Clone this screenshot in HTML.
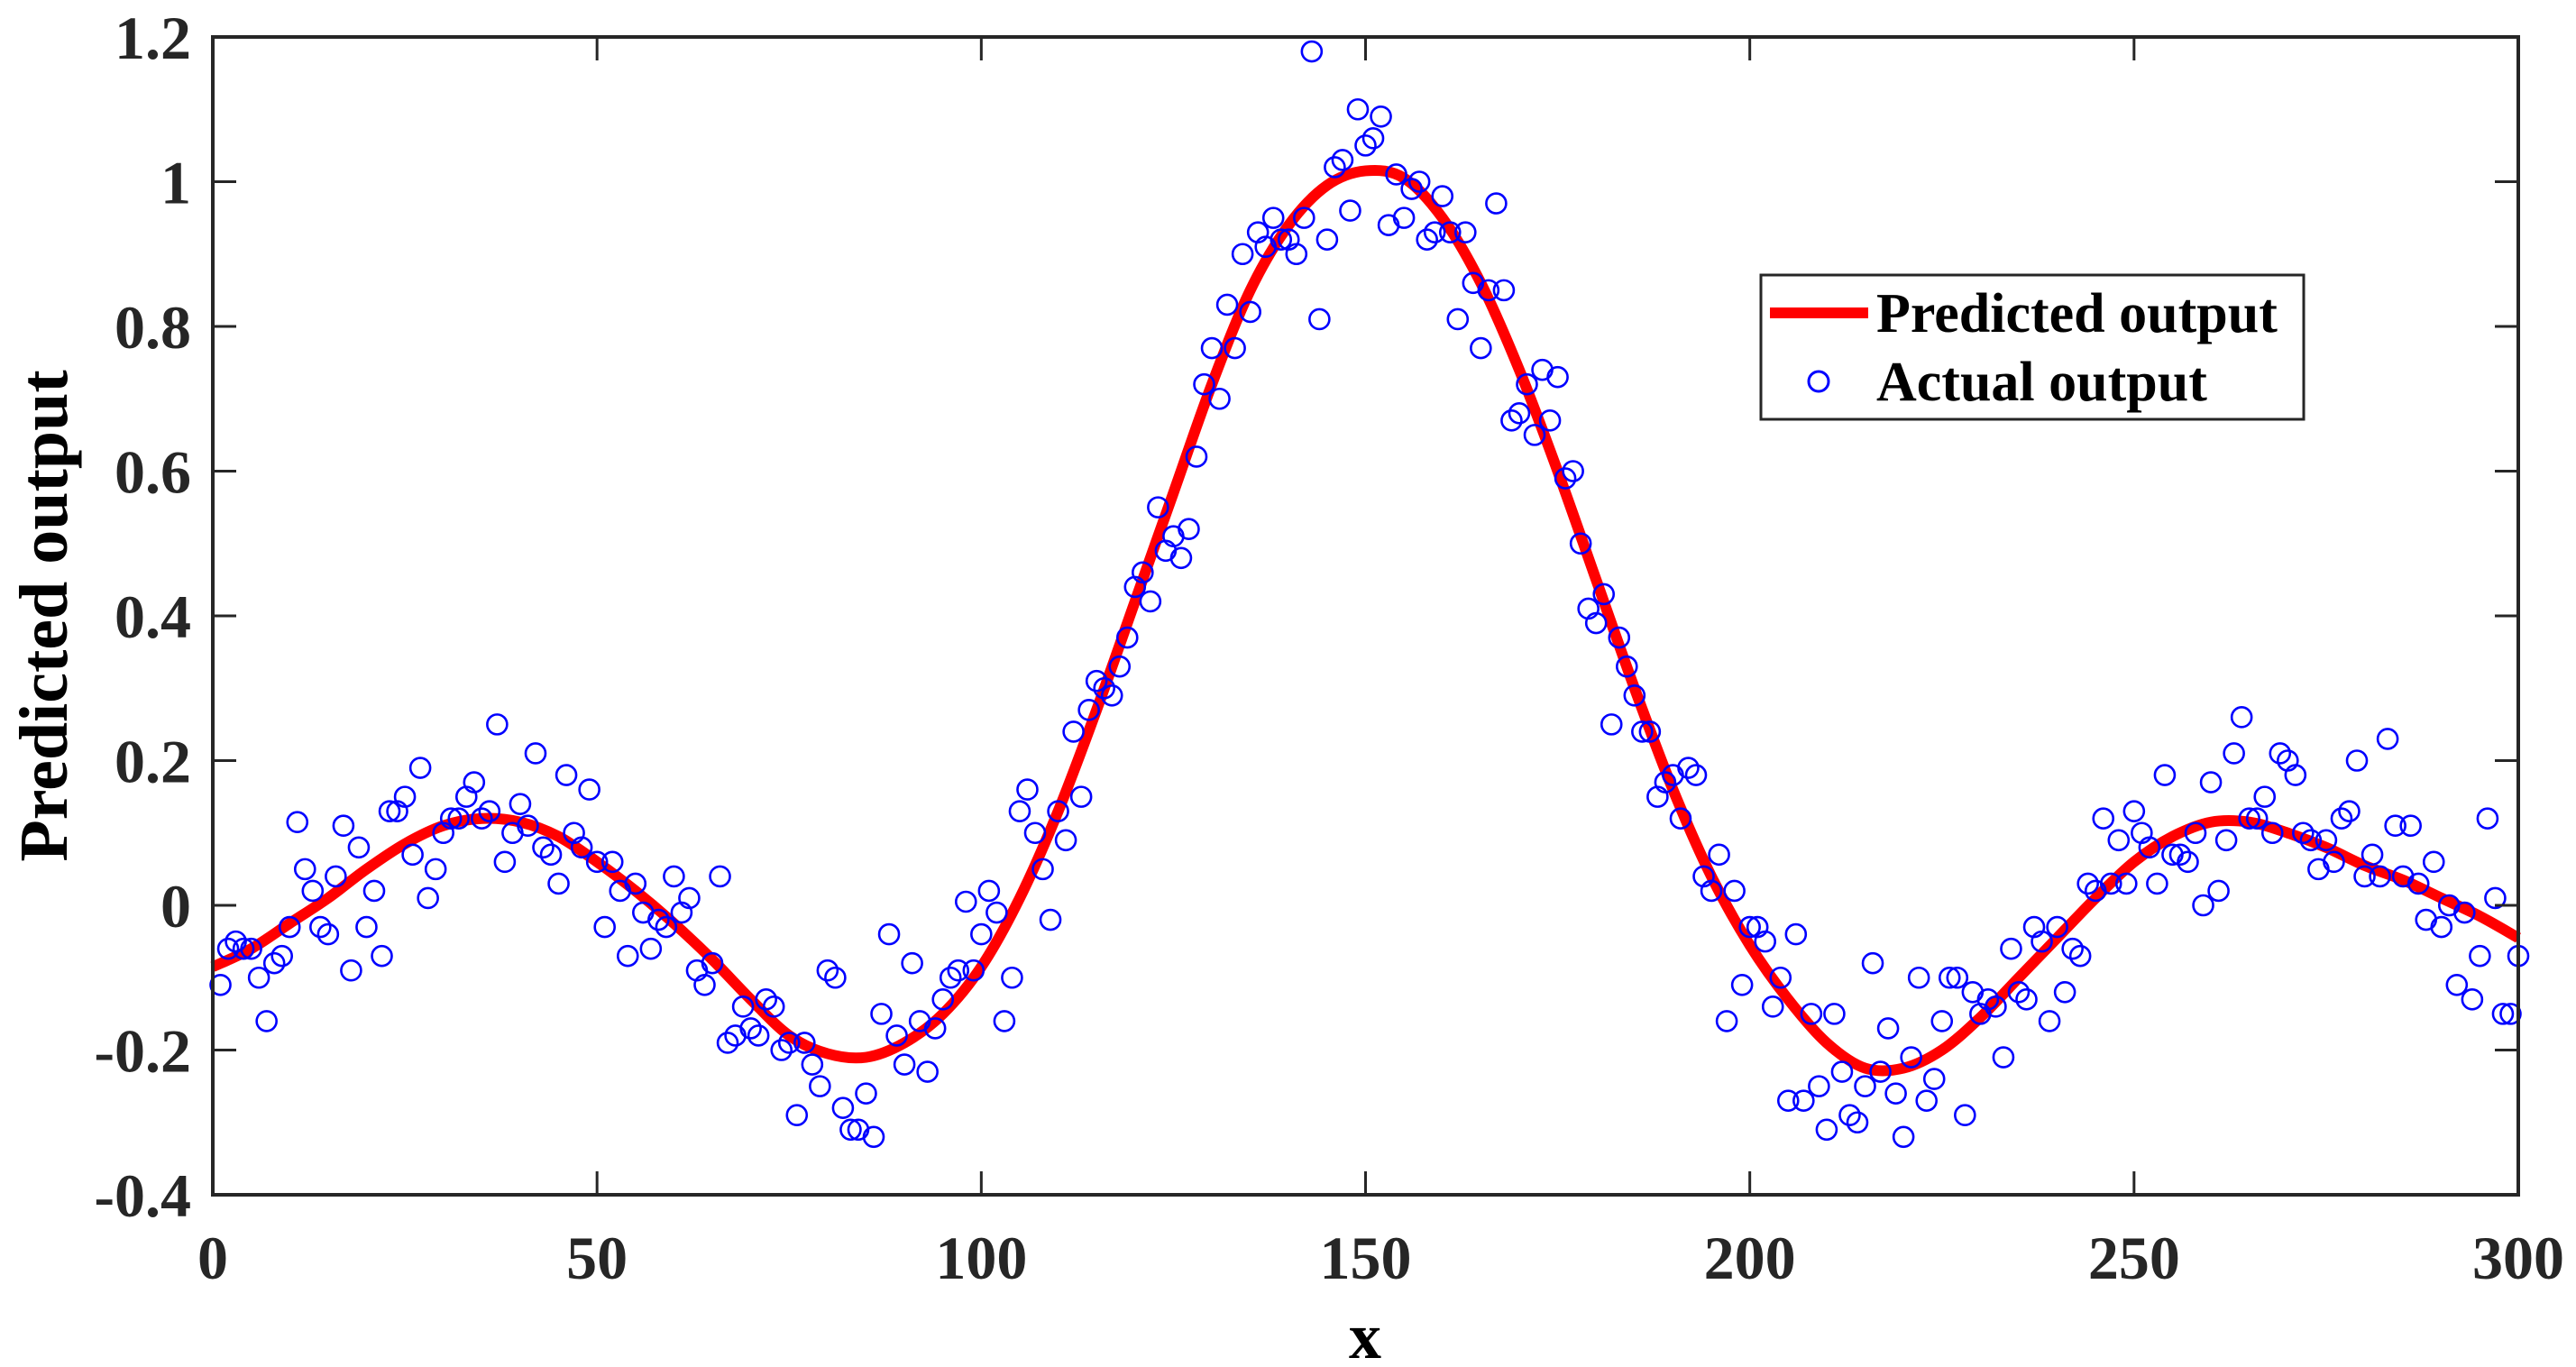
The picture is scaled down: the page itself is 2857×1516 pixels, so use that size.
<!DOCTYPE html>
<html><head><meta charset="utf-8"><style>
html,body{margin:0;padding:0;background:#fff;}
svg{display:block;}
text{font-family:"Liberation Serif","Times New Roman",serif;font-weight:bold;}
</style></head><body>
<svg id="chart" width="2857" height="1516" viewBox="0 0 2857 1516" xmlns="http://www.w3.org/2000/svg">
<rect x="0" y="0" width="2857" height="1516" fill="#fff"/>
<g id="marks"></g>
<g id="axes"></g>
<text x="1514" y="1506" font-family="Liberation Serif, serif" font-weight="bold" font-size="72" text-anchor="middle" fill="#000">x</text>
<text transform="translate(74,683) rotate(-90)" font-family="Liberation Serif, serif" font-weight="bold" font-size="76" text-anchor="middle" fill="#000">Predicted output</text>
<g>
<rect x="1953" y="305" width="602" height="160" fill="#fff" stroke="#262626" stroke-width="3"/>
<line x1="1963" y1="347" x2="2072" y2="347" stroke="#ff0000" stroke-width="12"/>
<text x="2081" y="368" font-family="Liberation Serif, serif" font-weight="bold" font-size="62" fill="#000">Predicted output</text>
<circle cx="2017" cy="423" r="11" fill="none" stroke="#0000ff" stroke-width="3"/>
<text x="2081" y="444" font-family="Liberation Serif, serif" font-weight="bold" font-size="62" fill="#000">Actual output</text>
</g>
</svg>
<script>
const xTicks=[0,50,100,150,200,250,300];
const yTicks=[-0.4,-0.2,0,0.2,0.4,0.6,0.8,1,1.2];
const yTickLabels=["-0.4","-0.2","0","0.2","0.4","0.6","0.8","1","1.2"];
const predX=[0,5,10,15,20,25,30,35,40,45,50,55,60,65,70,75,80,85,90,95,100,105,110,115,120,125,130,135,140,145,150,155,160,165,170,175,180,185,190,195,200,205,210,215,220,225,230,235,240,245,250,255,260,265,270,275,280,285,290,295,300];
const predY=[-0.085,-0.06,-0.025,0.01,0.05,0.085,0.11,0.12,0.115,0.095,0.06,0.02,-0.025,-0.075,-0.13,-0.18,-0.205,-0.21,-0.19,-0.15,-0.085,0.01,0.13,0.27,0.42,0.57,0.72,0.85,0.94,0.995,1.015,1.005,0.95,0.86,0.74,0.6,0.45,0.3,0.16,0.04,-0.055,-0.13,-0.19,-0.225,-0.225,-0.2,-0.155,-0.1,-0.045,0.01,0.06,0.095,0.115,0.115,0.1,0.08,0.055,0.035,0.01,-0.015,-0.045];
const actualY=[-0.11,-0.06,-0.05,-0.06,-0.06,-0.1,-0.16,-0.08,-0.07,-0.03,
0.115,0.05,0.02,-0.03,-0.04,0.04,0.11,-0.09,0.08,-0.03,
0.02,-0.07,0.13,0.13,0.15,0.07,0.19,0.01,0.05,0.1,
0.12,0.12,0.15,0.17,0.12,0.13,0.25,0.06,0.1,0.14,
0.11,0.21,0.08,0.07,0.03,0.18,0.1,0.08,0.16,0.06,
-0.03,0.06,0.02,-0.07,0.03,-0.01,-0.06,-0.02,-0.03,0.04,
-0.01,0.01,-0.09,-0.11,-0.08,0.04,-0.19,-0.18,-0.14,-0.17,
-0.18,-0.13,-0.14,-0.2,-0.19,-0.29,-0.19,-0.22,-0.25,-0.09,
-0.1,-0.28,-0.31,-0.31,-0.26,-0.32,-0.15,-0.04,-0.18,-0.22,
-0.08,-0.16,-0.23,-0.17,-0.13,-0.1,-0.09,0.005,-0.09,-0.04,
0.02,-0.01,-0.16,-0.1,0.13,0.16,0.1,0.05,-0.02,0.13,
0.09,0.24,0.15,0.27,0.31,0.3,0.29,0.33,0.37,0.44,
0.46,0.42,0.55,0.49,0.51,0.48,0.52,0.62,0.72,0.77,
0.7,0.83,0.77,0.9,0.82,0.93,0.91,0.95,0.92,0.92,
0.9,0.95,1.18,0.81,0.92,1.02,1.03,0.96,1.1,1.05,
1.06,1.09,0.94,1.01,0.95,0.99,1.0,0.92,0.93,0.98,
0.93,0.81,0.93,0.86,0.77,0.85,0.97,0.85,0.67,0.68,
0.72,0.65,0.74,0.67,0.73,0.59,0.6,0.5,0.41,0.39,
0.43,0.25,0.37,0.33,0.29,0.24,0.24,0.15,0.17,0.18,
0.12,0.19,0.18,0.04,0.02,0.07,-0.16,0.02,-0.11,-0.03,
-0.03,-0.05,-0.14,-0.1,-0.27,-0.04,-0.27,-0.15,-0.25,-0.31,
-0.15,-0.23,-0.29,-0.3,-0.25,-0.08,-0.23,-0.17,-0.26,-0.32,
-0.21,-0.1,-0.27,-0.24,-0.16,-0.1,-0.1,-0.29,-0.12,-0.15,
-0.13,-0.14,-0.21,-0.06,-0.12,-0.13,-0.03,-0.05,-0.16,-0.03,
-0.12,-0.06,-0.07,0.03,0.02,0.12,0.03,0.09,0.03,0.13,
0.1,0.08,0.03,0.18,0.07,0.07,0.06,0.1,0.0,0.17,
0.02,0.09,0.21,0.26,0.12,0.12,0.15,0.1,0.21,0.2,
0.18,0.1,0.09,0.05,0.09,0.06,0.12,0.13,0.2,0.04,
0.07,0.04,0.23,0.11,0.04,0.11,0.03,-0.02,0.06,-0.03,
0.0,-0.11,-0.01,-0.13,-0.07,0.12,0.01,-0.15,-0.15,-0.07];

const L=236,R=2793,T=41,B=1325;
const xMin=0,xMax=300,yMin=-0.4,yMax=1.2;
function sx(v){return L+(v-xMin)/(xMax-xMin)*(R-L);}
function sy(v){return B-(v-yMin)/(yMax-yMin)*(B-T);}
const NS="http://www.w3.org/2000/svg";
const marks=document.getElementById('marks');
const axes=document.getElementById('axes');
function mk(tag,attrs,parent){const e=document.createElementNS(NS,tag);for(const k in attrs)e.setAttribute(k,attrs[k]);parent.appendChild(e);return e;}

const pts=predX.map((x,i)=>[sx(x),sy(predY[i])]);
let d="M"+pts[0][0]+","+pts[0][1];
for(let i=0;i<pts.length-1;i++){
  const p0=pts[Math.max(0,i-1)],p1=pts[i],p2=pts[i+1],p3=pts[Math.min(pts.length-1,i+2)];
  const c1=[p1[0]+(p2[0]-p0[0])/6,p1[1]+(p2[1]-p0[1])/6];
  const c2=[p2[0]-(p3[0]-p1[0])/6,p2[1]-(p3[1]-p1[1])/6];
  d+=" C"+c1[0]+","+c1[1]+" "+c2[0]+","+c2[1]+" "+p2[0]+","+p2[1];
}
const line=mk('path',{d:d,fill:'none',stroke:'#ff0000','stroke-width':12,'stroke-linejoin':'round'},marks);



actualY.forEach((v,i)=>{
  const c=mk('circle',{cx:sx(i+1),cy:sy(v),r:11,fill:'none',stroke:'#0000ff','stroke-width':2.6},marks);
  
  
});

const box=mk('rect',{x:L,y:T,width:R-L,height:B-T,fill:'none',stroke:'#262626','stroke-width':4},axes);


const tl=26;
xTicks.forEach(v=>{
  const x=sx(v);
  mk('line',{x1:x,y1:B,x2:x,y2:B-tl,stroke:'#262626','stroke-width':3},axes);
  mk('line',{x1:x,y1:T,x2:x,y2:T+tl,stroke:'#262626','stroke-width':3},axes);
  const t=mk('text',{x:x,y:1418,'font-family':'Liberation Serif, serif','font-weight':'bold','font-size':68,'text-anchor':'middle',fill:'#262626'},axes);
  t.textContent=String(v);
  
  
});
yTicks.forEach((v,i)=>{
  const y=sy(v);
  mk('line',{x1:L,y1:y,x2:L+tl,y2:y,stroke:'#262626','stroke-width':3},axes);
  mk('line',{x1:R,y1:y,x2:R-tl,y2:y,stroke:'#262626','stroke-width':3},axes);
  const t=mk('text',{x:212,y:y+24,'font-family':'Liberation Serif, serif','font-weight':'bold','font-size':68,'text-anchor':'end',fill:'#262626'},axes);
  t.textContent=yTickLabels[i];
  
  
});
</script>
</body></html>
